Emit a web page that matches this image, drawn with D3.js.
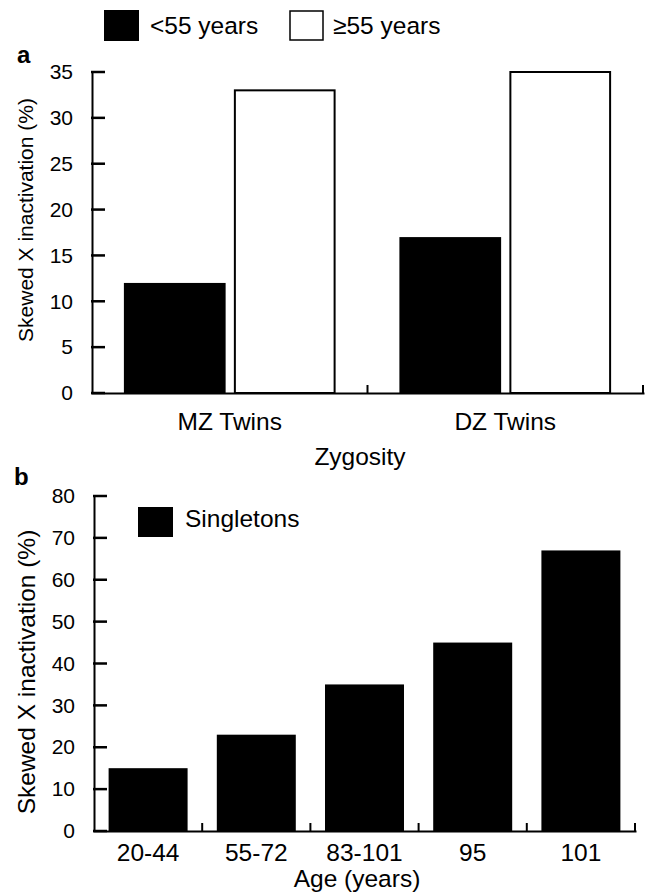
<!DOCTYPE html>
<html>
<head>
<meta charset="utf-8">
<script src="https://cdnjs.cloudflare.com/ajax/libs/d3/7.8.5/d3.min.js"></script>
<style>
  body { margin: 0; background: #fff; }
  text { font-family: 'Liberation Sans', Arial, sans-serif; fill: #000; }
  .axis path, .axis line { stroke: #000; stroke-width: 2; }
</style>
</head>
<body>
<div id="chart"></div>
<script>
'use strict';

// panel a : twins
var zygosity = ['MZ Twins', 'DZ Twins'],
    ageGroups = ['<55 years', '\u226555 years'],
    under55Values = [12, 17],
    over55Values = [33, 35],
    yTicksA = [0, 5, 10, 15, 20, 25, 30, 35];

// panel b : singletons
var ageCategories = ['20-44', '55-72', '83-101', '95', '101'],
    singletonValues = [15, 23, 35, 45, 67],
    yTicksB = [0, 10, 20, 30, 40, 50, 60, 70, 80];

var WIDTH = 651,
    HEIGHT = 893,
    TICK_FONT = 21,
    LABEL_FONT = 24.5,
    TICK_LEN = 13;

var svg = d3.select('#chart')
  .append('svg')
  .attr('width', WIDTH)
  .attr('height', HEIGHT);

function drawLeftAxis(y, ticks, left) {
  var g = svg.append('g')
    .attr('class', 'axis')
    .attr('transform', 'translate(' + left + ',0)')
    .call(d3.axisLeft(y).tickValues(ticks).tickSize(0).tickPadding(19));
  g.selectAll('text').style('font-size', TICK_FONT + 'px');
  // ticks point inwards, into the plot
  svg.append('g')
    .selectAll('rect')
    .data(ticks)
    .enter()
    .append('rect')
    .attr('x', left - 1)
    .attr('y', function (d) { return y(d) - 1.25; })
    .attr('width', TICK_LEN + 1)
    .attr('height', 2.5)
    .attr('fill', '#000');
  return g;
}

function drawBottomAxis(x, bottom, labelOffset, boundaries) {
  var g = svg.append('g')
    .attr('class', 'axis')
    .attr('transform', 'translate(0,' + bottom + ')')
    .call(d3.axisBottom(x).tickSize(0));
  g.selectAll('text')
    .attr('dy', null)
    .attr('y', labelOffset)
    .style('font-size', LABEL_FONT + 'px');
  // small upward ticks between categories
  g.selectAll('line.sep')
    .data(boundaries)
    .enter()
    .append('line')
    .attr('class', 'sep')
    .attr('x1', function (d) { return d; })
    .attr('x2', function (d) { return d; })
    .attr('y1', 0)
    .attr('y2', -8);
  g.select('.domain').attr('stroke-linecap', 'square');
  return g;
}

/* ---------------- panel a ---------------- */
var a = { left: 92, right: 643, top: 72, bottom: 393 };

var x0 = d3.scaleBand().domain(zygosity).range([a.left, a.right]),
    x1 = d3.scaleBand().domain(ageGroups).range([0, x0.bandwidth()])
           .paddingInner(0.075).paddingOuter(0.29),
    yA = d3.scaleLinear().domain([0, 35]).range([a.bottom, a.top]);

var twinRows = zygosity.map(function (z, i) {
  return { name: z, values: [
    { group: ageGroups[0], value: under55Values[i] },
    { group: ageGroups[1], value: over55Values[i] }
  ] };
});

svg.append('g')
  .selectAll('g')
  .data(twinRows)
  .enter()
  .append('g')
  .attr('transform', function (d) { return 'translate(' + x0(d.name) + ',0)'; })
  .selectAll('rect')
  .data(function (d) { return d.values; })
  .enter()
  .append('rect')
  .attr('x', function (d, i) { return x1(d.group) + (i ? 1 : 0); })
  .attr('width', function (d, i) { return x1.bandwidth() - (i ? 2 : 0); })
  .attr('y', function (d) { return yA(d.value); })
  .attr('height', function (d) { return yA(0) - yA(d.value); })
  .attr('fill', function (d, i) { return i ? '#fff' : '#000'; })
  .attr('stroke', function (d, i) { return i ? '#000' : 'none'; })
  .attr('stroke-width', 2);

drawLeftAxis(yA, yTicksA, a.left);
drawBottomAxis(x0, a.bottom, 37, zygosity.map(function (d) { return x0(d) + x0.bandwidth(); }));

svg.append('text')
  .attr('transform', 'translate(33,220) rotate(-90)')
  .attr('text-anchor', 'middle')
  .style('font-size', TICK_FONT + 'px')
  .text('Skewed X inactivation (%)');

svg.append('text')
  .attr('x', 360).attr('y', 465)
  .attr('text-anchor', 'middle')
  .style('font-size', LABEL_FONT + 'px')
  .text('Zygosity');

svg.append('text')
  .attr('x', 17).attr('y', 63)
  .style('font-size', '24px').style('font-weight', 'bold')
  .text('a');

// legend a
var legendA = [
  { label: ageGroups[0], x: 104, fill: '#000' },
  { label: ageGroups[1], x: 290, fill: '#fff' }
];
legendA.forEach(function (d, i) {
  svg.append('rect')
    .attr('x', d.x).attr('y', i ? 11 : 10)
    .attr('width', i ? 33 : 35).attr('height', i ? 29 : 31)
    .attr('fill', d.fill)
    .attr('stroke', i ? '#000' : 'none')
    .attr('stroke-width', 1.5);
  svg.append('text')
    .attr('x', d.x + (i ? 43 : 46)).attr('y', 34)
    .style('font-size', LABEL_FONT + 'px')
    .text(d.label);
});

/* ---------------- panel b ---------------- */
var b = { left: 94, right: 635, top: 496, bottom: 831 };

var xB = d3.scaleBand().domain(ageCategories).range([b.left, b.right])
           .paddingInner(0.27).paddingOuter(0.135),
    yB = d3.scaleLinear().domain([0, 80]).range([b.bottom, b.top]);

svg.append('g')
  .selectAll('rect')
  .data(ageCategories)
  .enter()
  .append('rect')
  .attr('x', function (d) { return xB(d); })
  .attr('width', xB.bandwidth())
  .attr('y', function (d, i) { return yB(singletonValues[i]); })
  .attr('height', function (d, i) { return yB(0) - yB(singletonValues[i]); })
  .attr('fill', '#000');

drawLeftAxis(yB, yTicksB, b.left);
drawBottomAxis(xB, b.bottom, 30, ageCategories.map(function (d) {
  return xB(d) - xB.step() * xB.paddingOuter() + xB.step();
}));

svg.append('text')
  .attr('transform', 'translate(35,672) rotate(-90)')
  .attr('text-anchor', 'middle')
  .style('font-size', LABEL_FONT + 'px')
  .text('Skewed X inactivation (%)');

svg.append('text')
  .attr('x', 357).attr('y', 887)
  .attr('text-anchor', 'middle')
  .style('font-size', LABEL_FONT + 'px')
  .text('Age (years)');

svg.append('text')
  .attr('x', 14).attr('y', 485)
  .style('font-size', '24px').style('font-weight', 'bold')
  .text('b');

// legend b
svg.append('rect')
  .attr('x', 138).attr('y', 507)
  .attr('width', 35).attr('height', 30)
  .attr('fill', '#000');
svg.append('text')
  .attr('x', 185).attr('y', 527)
  .style('font-size', LABEL_FONT + 'px')
  .text('Singletons');
</script>
</body>
</html>
